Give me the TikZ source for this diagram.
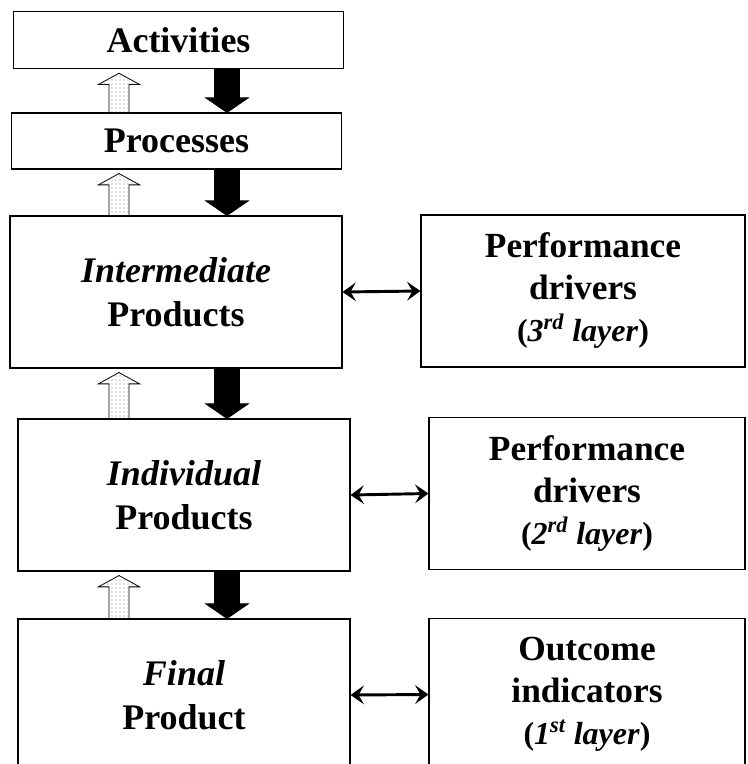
\documentclass[tikz,border=0pt]{standalone}
\usepackage{fontspec}
\setmainfont{Liberation Serif}
\usetikzlibrary{calc,patterns,arrows.meta}
\tikzset{
	box/.style={draw=black, line width=0.8pt, fill=white, inner sep=0pt, align=center,
		font=\bfseries\fontsize{27}{33}\selectfont},
	smallbox/.style={box, minimum width=248pt, minimum height=43pt},
	bigbox/.style={box, minimum width=249pt, minimum height=114pt},
	sidebox/.style={box, minimum width=237pt, minimum height=114pt, font=\bfseries\fontsize{26.5}{31.5}\selectfont},
	linkarr/.style={line width=2.2pt, {Stealth[length=10pt,width=14pt,inset=4pt]}-{Stealth[length=10pt,width=14pt,inset=4pt]}},
	uparr/.style={draw=black, line width=0.6pt, fill=white, postaction={pattern=dots, pattern color=gray},
		to path={let \p1=(\tikztostart), \p2=(\tikztotarget) in
			(\x1-7.5pt,\y1) -- (\x1-7.5pt,\y2-11.5pt) -- (\x1-15.5pt,\y2-11.5pt) -- (\x1,\y2-3pt)
			-- (\x1+15.5pt,\y2-11.5pt) -- (\x1+7.5pt,\y2-11.5pt) -- (\x1+7.5pt,\y1) -- cycle}},
	downarr/.style={draw=black, line width=0.6pt, fill=black,
		to path={let \p1=(\tikztostart), \p2=(\tikztotarget) in
			(\x1-9.4pt,\y1) -- (\x1-9.4pt,\y2+11pt) -- (\x1-16pt,\y2+11pt) -- (\x1,\y2)
			-- (\x1+16pt,\y2+11pt) -- (\x1+9.4pt,\y2+11pt) -- (\x1+9.4pt,\y1) -- cycle}}
}
\newcommand{\layer}[2]{{\fontsize{24}{30}\selectfont(\textit{#1\textsuperscript{#2} layer})}}
\begin{document}
\begin{tikzpicture}[x=0.75pt,y=-0.75pt]
	\useasboundingbox (0,0) rectangle (747,764);
	\clip (0,0) rectangle (747,764);
	\node[smallbox] (act) at (178.5,40) {Activities};
	\node[smallbox, minimum height=42pt] (proc) at (176.5,141) {Processes};
	\node[bigbox] (inter) at (176,292) {\textit{Intermediate}\\Products};
	\node[bigbox] (indiv) at (184,495) {\textit{Individual}\\Products};
	\node[bigbox] (final) at (184,695) {\textit{Final}\\Product};
	\node[sidebox, minimum width=243pt] (pd3) at (583,291) {Performance\\drivers\\\layer{3}{rd}};
	\node[sidebox] (pd2) at (587,493.5) {Performance\\drivers\\\layer{2}{rd}};
	\node[sidebox] (oi) at (587,694.5) {Outcome\\indicators\\\layer{1}{st}};
	\coordinate (upx) at (119,0);
	\coordinate (dnx) at (227,0);
	\draw[uparr] (proc.north -| upx) to (act.south -| upx);
	\draw[uparr] (inter.north -| upx) to (proc.south -| upx);
	\draw[uparr] (indiv.north -| upx) to (inter.south -| upx);
	\draw[uparr] (final.north -| upx) to (indiv.south -| upx);
	\draw[downarr] (act.south -| dnx) to (proc.north -| dnx);
	\draw[downarr] (proc.south -| dnx) to (inter.north -| dnx);
	\draw[downarr] (inter.south -| dnx) to (indiv.north -| dnx);
	\draw[downarr] (indiv.south -| dnx) to (final.north -| dnx);
	\draw[linkarr] (inter.east) -- (pd3.west);
	\draw[linkarr] (indiv.east) -- (pd2.west);
	\draw[linkarr] (final.east) -- (oi.west);
\end{tikzpicture}
\end{document}
